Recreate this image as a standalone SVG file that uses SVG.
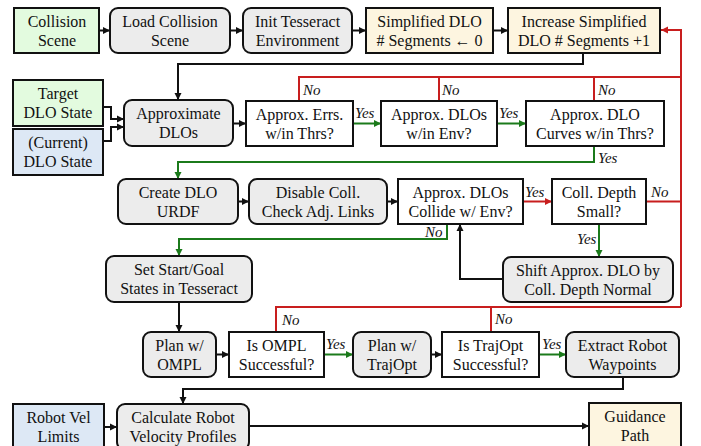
<svg xmlns="http://www.w3.org/2000/svg" width="701" height="446" viewBox="0 0 701 446">
<style>
text{font-family:"Liberation Serif","Times New Roman",serif;font-size:16px;fill:#111;text-anchor:middle}
.lbl{font-style:italic;font-size:15px;text-anchor:start}
.box{stroke:#111;stroke-width:2}
.g{fill:#e3fbdf}.b{fill:#dde8f5}.y{fill:#fdf5e0}.gr{fill:#ececec}.w{fill:#fff}
.k{fill:none;stroke:#111;stroke-width:2}
.gn{fill:none;stroke:#1b7a1b;stroke-width:2}
.rd{fill:none;stroke:#c81e1e;stroke-width:2}
</style>
<defs>
<marker id="ak" markerUnits="userSpaceOnUse" markerWidth="8" markerHeight="8" refX="7" refY="4" orient="auto"><path d="M0,0.5 L7,4 L0,7.5z" fill="#111"/></marker>
<marker id="ag" markerUnits="userSpaceOnUse" markerWidth="8" markerHeight="8" refX="7" refY="4" orient="auto"><path d="M0,0.5 L7,4 L0,7.5z" fill="#1b7a1b"/></marker>
<marker id="ar" markerUnits="userSpaceOnUse" markerWidth="8" markerHeight="8" refX="7" refY="4" orient="auto"><path d="M0,0.5 L7,4 L0,7.5z" fill="#c81e1e"/></marker>
</defs>
<rect width="701" height="446" fill="#fff"/>
<g id="connectors">
<path class="k" marker-end="url(#ak)" d="M99,30.5H110"/>
<path class="k" marker-end="url(#ak)" d="M230,30.5H243"/>
<path class="k" marker-end="url(#ak)" d="M352,30.5H366"/>
<path class="k" marker-end="url(#ak)" d="M493,30.5H508"/>
<path class="k" marker-end="url(#ak)" d="M583,53V64H178V100"/>
<path class="k" marker-end="url(#ak)" d="M103,107H111V119H124"/>
<path class="k" marker-end="url(#ak)" d="M103,141H111V127H124"/>
<path class="k" marker-end="url(#ak)" d="M233,123.5H246"/>
<path class="k" marker-end="url(#ak)" d="M238,201.5H249"/>
<path class="k" marker-end="url(#ak)" d="M387,201.5H398"/>
<path class="k" marker-end="url(#ak)" d="M503,279H460V224"/>
<path class="k" marker-end="url(#ak)" d="M179,302V332"/>
<path class="k" marker-end="url(#ak)" d="M216,354.5H229"/>
<path class="k" marker-end="url(#ak)" d="M431,354.5H442"/>
<path class="k" marker-end="url(#ak)" d="M623,377V389H183V404"/>
<path class="k" marker-end="url(#ak)" d="M104,427H117"/>
<path class="k" marker-end="url(#ak)" d="M249,426H589"/>
<path class="gn" marker-end="url(#ag)" d="M353,123.5H381"/>
<path class="gn" marker-end="url(#ag)" d="M497,123.5H526"/>
<path class="gn" marker-end="url(#ag)" d="M594,146V162H178V179"/>
<path class="gn" marker-end="url(#ag)" d="M599,224V257"/>
<path class="gn" marker-end="url(#ag)" d="M447,224V239H179V256"/>
<path class="gn" marker-end="url(#ag)" d="M324,354.5H353"/>
<path class="gn" marker-end="url(#ag)" d="M539,354.5H566"/>
<path class="rd" d="M299,101V77H681"/>
<path class="rd" d="M439,101V77"/>
<path class="rd" d="M594,101V77"/>
<path class="rd" marker-end="url(#ar)" d="M523,201.5H552"/>
<path class="rd" d="M646,201.5H681"/>
<path class="rd" d="M276,332V307H681"/>
<path class="rd" d="M491,332V307"/>
<path class="rd" marker-end="url(#ar)" d="M681,307V30H661"/>
<text class="lbl" x="303" y="95">No</text>
<text class="lbl" x="442" y="95">No</text>
<text class="lbl" x="598" y="95">No</text>
<text class="lbl" x="355" y="118">Yes</text>
<text class="lbl" x="499" y="118">Yes</text>
<text class="lbl" x="598" y="163">Yes</text>
<text class="lbl" x="525" y="197">Yes</text>
<text class="lbl" x="651" y="197">No</text>
<text class="lbl" x="577" y="244">Yes</text>
<text class="lbl" x="425" y="237">No</text>
<text class="lbl" x="282" y="325">No</text>
<text class="lbl" x="326" y="349">Yes</text>
<text class="lbl" x="495" y="324">No</text>
<text class="lbl" x="542" y="349">Yes</text>
</g>
<g id="collision-scene"><rect class="box g" x="14" y="8" width="85" height="45"/><text x="57" y="26.5">Collision</text><text x="57" y="45.5">Scene</text></g>
<g id="load-collision-scene"><rect class="box gr" x="110" y="8" width="120" height="45" rx="8"/><text x="170" y="26.5">Load Collision</text><text x="170" y="45.5">Scene</text></g>
<g id="init-tesseract"><rect class="box gr" x="243" y="8" width="109" height="45" rx="8"/><text x="297.5" y="26.5">Init Tesseract</text><text x="297.5" y="45.5">Environment</text></g>
<g id="simplified-dlo"><rect class="box y" x="366" y="8" width="127" height="45"/><text x="429.5" y="26.5">Simplified DLO</text><text x="429.5" y="45.5"># Segments ← 0</text></g>
<g id="increase-simplified"><rect class="box y" x="508" y="8" width="152" height="45"/><text x="584" y="26.5">Increase Simplified</text><text x="584" y="45.5">DLO # Segments +1</text></g>
<g id="target-dlo-state"><rect class="box g" x="13" y="80" width="90" height="46"/><text x="58" y="99">Target</text><text x="58" y="118">DLO State</text></g>
<g id="current-dlo-state"><rect class="box b" x="13" y="129" width="90" height="46"/><text x="58" y="148">(Current)</text><text x="58" y="167">DLO State</text></g>
<g id="approximate-dlos"><rect class="box gr" x="124" y="100" width="109" height="46" rx="8"/><text x="178.5" y="119">Approximate</text><text x="178.5" y="138">DLOs</text></g>
<g id="approx-errs"><rect class="box w" x="246" y="101" width="107" height="45"/><text x="299.5" y="119.5">Approx. Errs.</text><text x="299.5" y="138.5">w/in Thrs?</text></g>
<g id="approx-env"><rect class="box w" x="381" y="101" width="116" height="45"/><text x="439" y="119.5">Approx. DLOs</text><text x="439" y="138.5">w/in Env?</text></g>
<g id="approx-curves"><rect class="box w" x="526" y="101" width="138" height="45"/><text x="595" y="119.5">Approx. DLO</text><text x="595" y="138.5">Curves w/in Thrs?</text></g>
<g id="create-urdf"><rect class="box gr" x="118" y="179" width="120" height="45" rx="8"/><text x="178" y="197.5">Create DLO</text><text x="178" y="216.5">URDF</text></g>
<g id="disable-coll"><rect class="box gr" x="249" y="179" width="138" height="45" rx="8"/><text x="318" y="197.5">Disable Coll.</text><text x="318" y="216.5">Check Adj. Links</text></g>
<g id="collide-env"><rect class="box w" x="398" y="179" width="125" height="45"/><text x="460.5" y="197.5">Approx. DLOs</text><text x="460.5" y="216.5">Collide w/ Env?</text></g>
<g id="coll-depth"><rect class="box w" x="552" y="179" width="94" height="45"/><text x="599" y="197.5">Coll. Depth</text><text x="599" y="216.5">Small?</text></g>
<g id="shift-approx"><rect class="box gr" x="503" y="257" width="170" height="45" rx="8"/><text x="588" y="275.5">Shift Approx. DLO by</text><text x="588" y="294.5">Coll. Depth Normal</text></g>
<g id="set-start-goal"><rect class="box gr" x="106" y="256" width="146" height="46" rx="8"/><text x="179" y="275">Set Start/Goal</text><text x="179" y="294">States in Tesseract</text></g>
<g id="plan-ompl"><rect class="box gr" x="143" y="332" width="73" height="45" rx="8"/><text x="179.5" y="350.5">Plan w/</text><text x="179.5" y="369.5">OMPL</text></g>
<g id="is-ompl"><rect class="box w" x="229" y="332" width="95" height="45"/><text x="276.5" y="350.5">Is OMPL</text><text x="276.5" y="369.5">Successful?</text></g>
<g id="plan-trajopt"><rect class="box gr" x="353" y="332" width="78" height="45" rx="8"/><text x="392" y="350.5">Plan w/</text><text x="392" y="369.5">TrajOpt</text></g>
<g id="is-trajopt"><rect class="box w" x="442" y="332" width="97" height="45"/><text x="490.5" y="350.5">Is TrajOpt</text><text x="490.5" y="369.5">Successful?</text></g>
<g id="extract-waypoints"><rect class="box gr" x="566" y="332" width="113" height="45" rx="8"/><text x="622.5" y="350.5">Extract Robot</text><text x="622.5" y="369.5">Waypoints</text></g>
<g id="robot-vel-limits"><rect class="box b" x="13" y="404" width="91" height="46"/><text x="58.5" y="423">Robot Vel</text><text x="58.5" y="442">Limits</text></g>
<g id="calc-velocity"><rect class="box gr" x="117" y="404" width="132" height="46" rx="8"/><text x="183" y="423">Calculate Robot</text><text x="183" y="442">Velocity Profiles</text></g>
<g id="guidance-path"><rect class="box y" x="589" y="403" width="92" height="47"/><text x="635" y="422">Guidance</text><text x="635" y="441">Path</text></g>
</svg>
